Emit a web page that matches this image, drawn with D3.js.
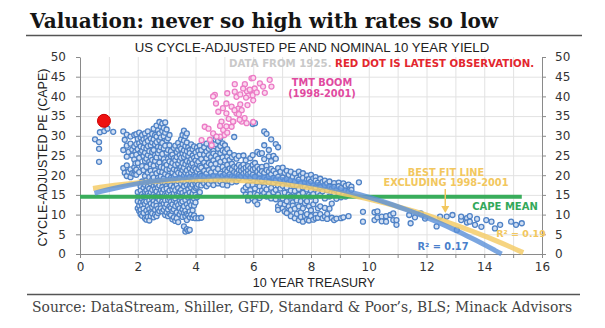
<!DOCTYPE html>
<html><head><meta charset="utf-8">
<script src="https://cdn.jsdelivr.net/npm/d3@7"></script>
<style>body{margin:0;background:#fff}</style>
</head><body>
<svg id="chart" width="605" height="328"></svg>
<script>
// ---- text ----
const titleText = "Valuation: never so high with rates so low";
const subtitleText = "US CYCLE-ADJUSTED PE AND NOMINAL 10 YEAR YIELD";
const sourceText = "Source: DataStream, Shiller, GFD, Standard & Poor\u2019s, BLS; Minack Advisors";
const xTitle = "10 YEAR TREASURY";
const yTitle = "CYCLE-ADJUSTED PE (CAPE)";

// ---- ticks ----
const xTicks = [0, 2, 4, 6, 8, 10, 12, 14, 16];
const xMinorTicks = d3.range(0, 17, 1);
const yTicks = [0, 5, 10, 15, 20, 25, 30, 35, 40, 45, 50];

// ---- reference lines ----
const capeMean = 14.5;
const capeMeanSpan = [0, 15.3];
// quadratic fits: cape = a + b*yield + c*yield^2
const fitAll = [14.425, 2.15, -0.215];
const fitAllSpan = [0.5, 14.6];
const fitExTmt = [16.09, 1.2996, -0.1515];
const fitExTmtSpan = [0.45, 15.35];

// ---- latest observation ----
const latest = [0.83, 33.8];

// ---- TMT boom months (yield, CAPE) ----
const tmtYield = [5.36,5.71,5.94,6.23,6.57,6.63,6.40,6.05,5.90,5.78,5.83,5.98,6.12,5.75,6.00,5.36,5.42,4.67,4.71,5.07,
  5.25,5.48,5.60,5.42,4.79,5.07,4.90,5.31,5.60,5.25,4.32,4.96,4.61,5.00,4.21,4.56,4.85,5.50,5.15,5.70,
  6.00,5.55,5.10,5.65,4.85,5.10,4.45,5.80,5.35,4.95,5.55,4.61,6.34,5.88,4.50,4.73,5.07,5.30,5.53,5.77,6.0];
const tmtCape = [43.1,43.1,44.6,43.3,44.2,42.5,40.9,42.0,41.5,41.3,40.2,40.3,41.0,39.7,39.0,41.2,39.9,40.4,38.2,38.2,
  37.4,36.9,36.5,35.7,36.1,35.7,33.6,33.6,33.6,32.3,32.3,31.5,30.6,30.2,28.9,27.6,29.8,35.5,34.3,34.5,
  33.5,38.0,40.8,42.0,32.5,30.8,31.8,37.8,36.5,37.0,40.5,40.0,42.5,41.7,29.0,29.8,32.4,33.6,34.1,33.2,44.7];

// ---- all other months since 1925: yield -> CAPE readings at that yield ----
const cloud = [
  [0.52,[29.1]],[0.66,[28.4,26.7,23.4]],[0.69,[30.9]],[0.84,[31.2]],[0.95,[31.8]],[1.15,[31.0]],
  [1.5,[31.1,26.4,21.8]],[1.55,[29.0,20.6]],
  [1.62,[30.3,27.5,24.7,22.5,19.8]],[1.68,[25.9,20.9]],
  [1.75,[29.8,28.0,21.5,19.5]],[1.81,[26.5,25.0,20.5]],
  [1.88,[30.2,27.3,24.0,22.0,20.3]],[1.92,[26.0,23.0,21.0]],
  [1.95,[30.4,27.9,25.2,21.4,20.1]],
  [2.0,[29.2,26.6,23.1,15.7,13.4,11.6]],
  [2.05,[30.8,28.1,24.4,20.8,14.6,12.3,10.9]],
  [2.1,[29.6,27.3,25.8,17.2,16.1,13.1,11.2,10.1]],
  [2.15,[30.2,28.6,26.2,22.3,18.4,15.2,14.0,12.4,9.7]],
  [2.2,[29.1,27.0,24.9,21.3,16.8,14.6,13.2,11.5,10.4]],
  [2.25,[30.6,28.2,25.7,23.6,19.8,17.6,15.8,12.7,9.1]],
  [2.3,[29.4,26.8,24.2,22.1,18.7,16.2,14.3,13.3,11.0,8.7]],
  [2.35,[31.1,28.7,27.4,25.1,20.6,17.1,15.4,12.1,10.2,9.4]],
  [2.4,[30.0,26.1,23.4,19.5,18.2,16.6,14.8,13.6,11.4,8.5]],
  [2.45,[29.3,27.6,24.6,22.8,21.1,17.9,15.7,12.8,10.6,9.6]],
  [2.5,[30.5,28.3,25.9,23.9,20.2,18.9,16.3,14.1,11.9,10.3]],
  [2.55,[31.8,29.1,26.4,22.4,19.4,17.3,15.1,13.4,12.5,9.3]],
  [2.6,[30.2,27.8,25.1,23.6,21.2,18.1,16.5,14.6,11.2,10.0]],
  [2.65,[32.6,29.8,28.4,24.5,20.5,17.6,15.9,13.1,12.2,9.6]],
  [2.7,[31.4,27.2,25.6,22.7,19.3,18.6,16.9,14.2,11.5,10.4]],
  [2.75,[33.5,30.6,28.9,26.3,23.2,21.0,17.4,15.3,13.7,10.9]],
  [2.8,[32.3,29.6,27.1,24.6,22.1,19.7,16.2,14.6,12.3,11.6]],
  [2.85,[33.1,31.2,28.2,25.4,20.8,18.3,17.0,15.6,13.3,10.8]],
  [2.9,[32.0,29.9,26.8,24.1,21.9,19.2,16.4,14.4,12.8,11.2]],
  [2.95,[33.4,30.8,27.5,23.3,20.3,18.0,15.2,13.6,11.9,9.9]],
  [3.0,[31.6,28.9,25.7,22.6,21.4,17.3,16.6,14.9,12.6,10.6]],
  [3.05,[29.4,26.4,24.2,19.8,18.5,15.6,13.8,11.3,9.6]],
  [3.1,[30.2,27.6,23.5,21.6,17.9,16.1,14.2,12.1,10.2]],
  [3.15,[26.1,24.8,22.2,19.3,17.4,15.0,13.3,11.7,9.9]],
  [3.2,[25.2,23.1,20.7,18.8,16.4,14.5,12.6,10.9,8.8]],
  [3.25,[26.9,24.3,21.5,19.6,17.0,15.4,13.7,11.3,9.3]],
  [3.3,[27.5,23.8,22.6,20.1,18.2,16.2,14.1,12.2,8.4]],
  [3.35,[25.9,24.6,21.2,19.0,17.6,15.1,13.0,10.6,9.1]],
  [3.4,[28.2,26.5,22.9,20.6,18.5,16.7,14.8,12.4,8.1]],
  [3.45,[27.2,25.1,23.7,21.8,19.2,15.8,13.6,11.6,10.1]],
  [3.5,[29.1,26.7,24.4,22.1,20.4,17.8,16.3,14.3,12.9,10.7]],
  [3.55,[30.2,27.9,25.6,23.1,21.3,18.6,15.5,13.3,11.3,9.4]],
  [3.6,[31.3,28.8,26.3,24.6,21.9,19.9,17.2,14.7,12.1,10.5,7.0]],
  [3.65,[29.9,27.4,25.2,22.8,20.6,18.1,16.0,13.7,11.0,9.6,5.7]],
  [3.7,[30.6,28.3,26.1,23.6,21.2,19.4,17.5,15.1,12.6,10.2,8.6,6.3]],
  [3.75,[27.1,24.9,22.3,20.2,18.8,16.5,14.3,11.8,9.9,5.9]],
  [3.8,[26.4,25.6,23.3,21.7,19.5,17.3,15.6,13.2,10.8,9.3,6.1]],
  [3.85,[27.8,24.1,22.6,20.7,18.2,16.9,14.6,12.4,10.0]],
  [3.9,[26.6,25.0,23.0,21.3,19.1,17.6,15.3,13.5,11.1,9.2]],
  [3.95,[27.3,24.4,22.0,20.0,18.6,16.2,14.1,12.3,9.8]],
  [4.0,[25.8,23.7,21.6,19.7,17.9,16.8,15.0,13.1,9.1]],
  [4.05,[27.0,24.8,22.9,20.9,18.4,17.1,14.4]],
  [4.1,[26.2,23.4,21.5,19.3,17.6,9.1]],
  [4.15,[27.5,25.3,22.3,20.3,18.9,15.7]],
  [4.2,[26.4,24.1,21.9,19.8,17.4,9.2]],
  [4.3,[27.1,25.2,23.2,21.1,19.6,17.9]],
  [4.38,[28.0,26.0,24.3,22.4,20.4,18.5,17.2]],
  [4.46,[26.7,25.1,23.1,21.3,19.3,17.8]],
  [4.54,[28.5,27.2,24.6,22.7,20.7,18.6]],
  [4.62,[26.2,25.5,23.8,21.8,19.8,17.5]],
  [4.7,[29.8,27.9,24.9,22.9,20.9,18.8]],
  [4.78,[28.7,26.7,24.2,21.6,19.6,17.9]],
  [4.86,[29.5,27.4,25.6,23.4,20.4,18.4]],
  [4.94,[28.1,26.3,24.5,22.1,19.8,17.6]],
  [5.02,[27.6,25.9,23.7,21.3,20.3,18.9]],
  [5.1,[26.6,24.7,22.6,21.0,19.3,17.4]],
  [5.18,[25.7,23.9,21.7,20.2,18.5]],
  [5.26,[24.6,22.9,21.4,19.7,18.2]],
  [5.34,[29.7,25.1,22.2,20.8,19.4]],
  [5.42,[24.2,21.9,20.5,19.0,18.4]],
  [5.5,[24.9,22.6,21.3,20.1,19.2]],
  [5.58,[22.1,21.1,19.8]],
  [5.66,[25.0,22.7,21.6,20.4,16.2]],
  [5.74,[23.8,21.9,20.8,19.5,16.9,15.1]],
  [5.82,[22.3,21.2,20.2,17.5,14.4,13.6]],
  [5.9,[24.3,21.8,20.6,19.3,16.2,15.2]],
  [5.98,[33.0,25.1,22.6,21.4,20.1,17.6,14.1]],
  [6.06,[33.2,23.1,21.7,19.6,16.6,15.3,13.4]],
  [6.14,[25.9,22.2,20.9,18.2,15.0,12.6]],
  [6.22,[25.4,21.6,20.3,19.1,17.2,14.2]],
  [6.3,[25.6,22.1,21.0,18.6,16.1,14.8]],
  [6.38,[31.1,27.6,24.1,20.6,19.4,17.0,15.5]],
  [6.46,[30.5,22.4,21.3,18.9,16.4,14.6]],
  [6.54,[26.4,24.8,20.9,19.7,18.3,15.2]],
  [6.62,[29.1,23.6,21.6,20.2,16.8,14.1]],
  [6.7,[24.9,21.1,19.3,18.0,15.7]],
  [6.78,[27.9,24.2,20.4,18.8,16.3,13.9]],
  [6.86,[27.1,21.8,19.6,17.4,15.1,12.1,11.2]],
  [6.94,[20.9,18.9,16.6,14.3,12.8]],
  [7.02,[21.9,19.4,17.3,14.1,11.6]],
  [7.09,[20.6,18.6,15.6,12.6,10.8]],
  [7.16,[21.1,19.0,16.9,13.4,10.4]],
  [7.23,[20.1,18.1,15.1,12.1]],
  [7.3,[20.9,18.6,16.1,14.6,11.2,9.6]],
  [7.37,[19.6,17.6,13.1,12.3]],
  [7.44,[20.4,18.4,16.0,14.4,11.5,9.1]],
  [7.51,[19.3,17.3,13.6,10.2]],
  [7.58,[20.9,18.9,16.5,15.0,12.1,8.6]],
  [7.65,[20.0,17.9,13.4,10.6,9.4]],
  [7.72,[20.5,19.3,16.9,15.5,11.6,8.2]],
  [7.79,[18.1,17.1,14.0,12.9,9.6]],
  [7.86,[19.9,18.9,16.4,13.4,10.1,8.7]],
  [7.93,[19.0,17.9,15.0,12.1,8.5]],
  [8.0,[20.1,18.4,16.1,14.6,11.1,9.6]],
  [8.08,[19.2,17.4,15.2,12.6,8.7]],
  [8.16,[19.5,18.6,16.9,13.6,10.0,9.1]],
  [8.24,[18.1,15.5,11.6,9.2]],
  [8.32,[19.1,17.6,17.0,14.9,12.1,10.1]],
  [8.4,[18.3,15.9,9.1]],
  [8.48,[18.6,17.4,14.1,11.7,9.5]],
  [8.56,[17.9,16.2,10.2,8.9]],
  [8.64,[18.4,17.1,14.6,11.5]],
  [8.72,[16.6,12.8,9.2]],
  [8.8,[18.0,17.0,15.4,8.6]],
  [8.88,[16.2,14.0,9.0]],
  [8.96,[18.1,17.2,15.6]],
  [9.04,[16.7,14.4,9.1]],
  [9.12,[17.9,15.1,9.3]],
  [9.2,[17.3,16.1,14.6]],
  [9.3,[17.6,15.8,9.6]],
  [9.4,[17.1,16.3]],
  [9.66,[18.2]],
  [9.8,[10.7,8.2]],[10.2,[10.6,8.6]],[10.3,[10.8,9.3]],[10.45,[9.5,8.3]],[10.6,[8.2,9.6]],
  [10.75,[9.9]],[10.85,[10.3,8.6]],[10.96,[7.4,8.6]],[11.4,[9.9]],[11.45,[7.8]],[11.6,[9.3]],
  [11.8,[10.3]],[11.95,[9]],[12.35,[7]],[12.47,[9.5]],[12.7,[9.5]],[12.9,[9.9]],[13.05,[6.1]],
  [13.2,[8.6,9.5]],[13.4,[9.1,8]],[13.5,[8.2,9.6]],[13.68,[7.4]],[13.75,[8.9]],[13.9,[6.9]],
  [14.07,[8.6]],[14.25,[8.2]],[14.37,[6.5]],[14.55,[7.4]],[14.93,[8.2]],[15.1,[7.4]],[15.3,[7.8]]
];

// ---- drawing ----
const svg = d3.select("#chart");
const plot = {left: 80, right: 542, top: 57, bottom: 254};

const x = d3.scaleLinear().domain([0, 16]).range([plot.left, plot.right]);
const y = d3.scaleLinear().domain([0, 50]).range([plot.bottom, plot.top]);

const tickFont = "DejaVu Sans, Verdana, sans-serif";
const labelFont = "Liberation Sans, Arial, sans-serif";
const annoFont = "DejaVu Sans, Verdana, sans-serif";

// title + rules
svg.append("text").attr("x", 30).attr("y", 28)
  .attr("font-family", "DejaVu Serif, serif").attr("font-weight", "bold")
  .attr("font-size", 20).attr("fill", "#151515").text(titleText);
svg.append("line").attr("x1", 26).attr("x2", 582).attr("y1", 35.5).attr("y2", 35.5)
  .attr("stroke", "#555").attr("stroke-width", 1.5);
svg.append("line").attr("x1", 27).attr("x2", 580).attr("y1", 294.5).attr("y2", 294.5)
  .attr("stroke", "#555").attr("stroke-width", 1.5);
svg.append("text").attr("x", 32).attr("y", 312)
  .attr("font-family", "DejaVu Serif, serif").attr("font-size", 13.9)
  .attr("fill", "#444").text(sourceText);

// chart subtitle
svg.append("text").attr("x", 312).attr("y", 52).attr("text-anchor", "middle")
  .attr("font-family", labelFont).attr("font-size", 13.2).attr("fill", "#222")
  .text(subtitleText);

// grid
const grid = svg.append("g").attr("stroke", "#e2e2e2").attr("stroke-width", 1);
grid.selectAll("line.v").data(d3.range(1, 16)).join("line")
  .attr("x1", d => x(d) + 0.5).attr("x2", d => x(d) + 0.5)
  .attr("y1", y(50)).attr("y2", y(0));
grid.selectAll("line.h").data(yTicks.filter(d => d > 0 && d < 50)).join("line")
  .attr("x1", x(0)).attr("x2", x(16))
  .attr("y1", d => y(d) + 0.5).attr("y2", d => y(d) + 0.5);

// axes
function styleAxis(g) {
  g.selectAll("path.domain").attr("stroke", "#8a8a8a");
  g.selectAll(".tick line").attr("stroke", "#8a8a8a");
  g.selectAll(".tick text").attr("font-family", tickFont).attr("font-size", 12).attr("fill", "#333");
}
svg.append("g").attr("transform", `translate(0,${plot.bottom})`)
  .call(d3.axisBottom(x).tickValues(xMinorTicks).tickSize(4).tickSizeOuter(0)
    .tickFormat(d => xTicks.includes(d) ? d : ""))
  .call(styleAxis)
  .call(g => g.selectAll(".tick text").attr("dy", "0.84em"));
svg.append("g").attr("transform", `translate(${plot.left},0)`)
  .call(d3.axisLeft(y).tickValues(yTicks).tickSize(4).tickSizeOuter(0).tickPadding(10))
  .call(styleAxis);
svg.append("g").attr("transform", `translate(${plot.right},0)`)
  .call(d3.axisRight(y).tickValues(yTicks).tickSize(4).tickSizeOuter(0).tickPadding(9))
  .call(styleAxis);

svg.append("text").attr("x", 314).attr("y", 287).attr("text-anchor", "middle")
  .attr("font-family", labelFont).attr("font-size", 12.5).attr("fill", "#222").text(xTitle);
svg.append("text").attr("transform", `translate(47,${(plot.top + plot.bottom) / 2 + 2}) rotate(-90)`)
  .attr("text-anchor", "middle").attr("font-family", labelFont).attr("font-size", 12.5)
  .attr("fill", "#222").text(yTitle);

// scatter
const cloudPts = cloud.flatMap(([xv, ys]) => ys.map(yv => [xv, yv]));
svg.append("g").selectAll("circle").data(cloudPts).join("circle")
  .attr("cx", d => x(d[0])).attr("cy", d => y(d[1])).attr("r", 2.5)
  .attr("fill", "#d3e0f3").attr("stroke", "#4f82c6").attr("stroke-width", 1.3);

const tmtPts = tmtYield.map((v, i) => [v, tmtCape[i]]);
svg.append("g").selectAll("circle").data(tmtPts).join("circle")
  .attr("cx", d => x(d[0])).attr("cy", d => y(d[1])).attr("r", 2.5)
  .attr("fill", "#fbd9ef").attr("stroke", "#ec7cc6").attr("stroke-width", 1.3);

// latest observation
svg.append("circle").attr("cx", x(latest[0])).attr("cy", y(latest[1])).attr("r", 6.5)
  .attr("fill", "#ee1111").attr("stroke", "#cc0000").attr("stroke-width", 1);

// yellow R² label sits beneath its line
svg.append("text").attr("x", 521).attr("y", 237).attr("text-anchor", "middle")
  .attr("font-family", annoFont).attr("font-weight", "bold").attr("font-size", 9.5)
  .attr("fill", "#f2c75e").text("R\u00b2 = 0.19");

// CAPE mean
svg.append("line").attr("x1", x(capeMeanSpan[0])).attr("x2", x(capeMeanSpan[1]))
  .attr("y1", y(capeMean)).attr("y2", y(capeMean))
  .attr("stroke", "#39ad5b").attr("stroke-width", 4);

// fitted curves
const quad = (c, v) => c[0] + c[1] * v + c[2] * v * v;
const curve = (coef, span) => d3.range(span[0], span[1] + 0.001, (span[1] - span[0]) / 60)
  .map(v => [v, quad(coef, v)]);
const line = d3.line().x(d => x(d[0])).y(d => y(d[1])).curve(d3.curveBasis);
svg.append("path").attr("d", line(curve(fitExTmt, fitExTmtSpan)))
  .attr("fill", "none").attr("stroke", "#f5cd6a").attr("stroke-width", 5).attr("opacity", 0.85);
svg.append("path").attr("d", line(curve(fitAll, fitAllSpan)))
  .attr("fill", "none").attr("stroke", "#5a90d8").attr("stroke-width", 5).attr("opacity", 0.8);

// annotations
function label(txt, cx, cy, color, size) {
  svg.append("text").attr("x", cx).attr("y", cy).attr("text-anchor", "middle")
    .attr("dominant-baseline", "middle")
    .attr("font-family", annoFont).attr("font-weight", "bold").attr("font-size", size)
    .attr("fill", color).text(txt);
}
svg.append("text").attr("x", 229).attr("y", 67)
  .attr("font-family", annoFont).attr("font-weight", "bold").attr("font-size", 10.2)
  .call(t => {
    t.append("tspan").attr("fill", "#c9c9c9").text("DATA FROM 1925. ");
    t.append("tspan").attr("fill", "#e3262e").text("RED DOT IS LATEST OBSERVATION.");
  });
label("TMT BOOM", 322, 83, "#e04a9f", 9.8);
label("(1998-2001)", 322, 94, "#e04a9f", 9.8);
label("BEST FIT LINE", 446, 173, "#f2c75e", 9.8);
label("EXCLUDING 1998-2001", 446, 183, "#f2c75e", 9.8);
label("CAPE MEAN", 505, 207, "#33a85a", 10);
label("R\u00b2 = 0.17", 443, 247, "#4a7fcb", 9.8);

// pointer to the excluding-TMT fit
const ax = x(12.65);
svg.append("line").attr("x1", ax).attr("x2", ax).attr("y1", 189).attr("y2", 208)
  .attr("stroke", "#f2c75e").attr("stroke-width", 1.5);
svg.append("path").attr("d", `M${ax - 4},${206} L${ax + 4},${206} L${ax},${213} Z`)
  .attr("fill", "#f2c75e");
</script>
</body></html>
